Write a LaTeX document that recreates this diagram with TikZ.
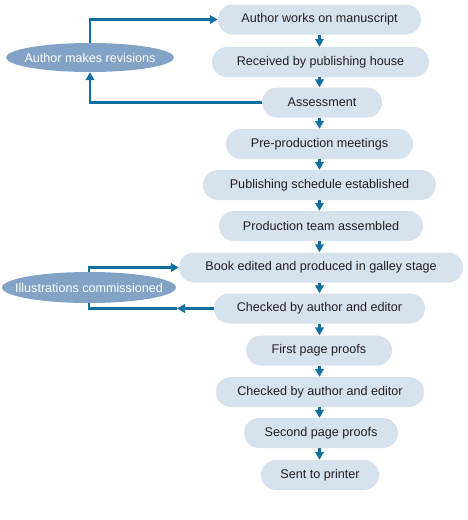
\documentclass[tikz,border=0pt]{standalone}
\usepackage{fontspec}
\setmainfont{Liberation Sans}
\usetikzlibrary{arrows.meta,shapes.geometric}
\definecolor{boxfill}{HTML}{D6E2EE}
\definecolor{ellfill}{HTML}{82A3C6}
\definecolor{arrowcol}{HTML}{0E6FA0}
\definecolor{txt}{HTML}{231F20}
\begin{document}
\begin{tikzpicture}[x=1pt,y=-1pt,
  stepbox/.style={fill=boxfill, rounded corners=15pt, minimum height=30pt, inner sep=0pt,
    text=txt, font=\fontsize{12.6}{15}\selectfont},
  oval/.style={ellipse, fill=ellfill, inner sep=0pt},
  ovaltext/.style={inner sep=0pt, text=white, font=\fontsize{12.6}{15}\selectfont},
  flow/.style={draw=arrowcol, line width=2.2pt, -{Triangle[width=8.5pt,length=8pt]}},
  plain/.style={draw=arrowcol, line width=2.2pt}
]
\useasboundingbox (0,0) rectangle (468,520);

\node[stepbox, minimum width=203pt] (n1) at (319.5,19.5) {Author works on manuscript};
\node[stepbox, minimum width=217pt] (n2) at (320.5,62) {Received by publishing house};
\node[stepbox, minimum width=120pt] (n3) at (322,102.5) {Assessment};
\node[stepbox, minimum width=187pt] (n4) at (319.5,144) {Pre-production meetings};
\node[stepbox, minimum width=233pt] (n5) at (319.5,185) {Publishing schedule established};
\node[stepbox, minimum width=204pt] (n6) at (321,226) {Production team assembled};
\node[stepbox, minimum width=284pt] (n7) at (321,267.5) {Book edited and produced in galley stage};
\node[stepbox, minimum width=211pt] (n8) at (319.5,308.5) {Checked by author and editor};
\node[stepbox, minimum width=146pt] (n9) at (319,350.5) {First page proofs};
\node[stepbox, minimum width=208pt] (n10) at (320,392) {Checked by author and editor};
\node[stepbox, minimum width=154pt] (n11) at (321,433) {Second page proofs};
\node[stepbox, minimum width=118pt] (n12) at (320,475) {Sent to printer};

\node[oval, minimum width=168pt, minimum height=29pt] (rev) at (90,57.5) {};
\node[ovaltext] (revt) at (rev.center) {Author makes revisions};
\node[oval, minimum width=174pt, minimum height=31pt] (ill) at (89,287.5) {};
\node[ovaltext] (illt) at (ill.center) {Illustrations commissioned};

\foreach \a/\b in {n1/n2,n2/n3,n3/n4,n4/n5,n5/n6,n6/n7,n7/n8,n8/n9,n9/n10,n10/n11,n11/n12}
  \draw[flow] (\a.south -| n1.center) -- (\b.north -| n1.center);

\draw[flow] (rev.north) |- (n1.west);
\draw[flow] (n3.west) -| (rev.south);

\draw[flow] (ill.north) |- (n7.west);
\coordinate (m) at (177,308.5);
\draw[flow] (n8.west) -- (m);
\draw[plain] (m) -| (ill.south);
\end{tikzpicture}
\end{document}
